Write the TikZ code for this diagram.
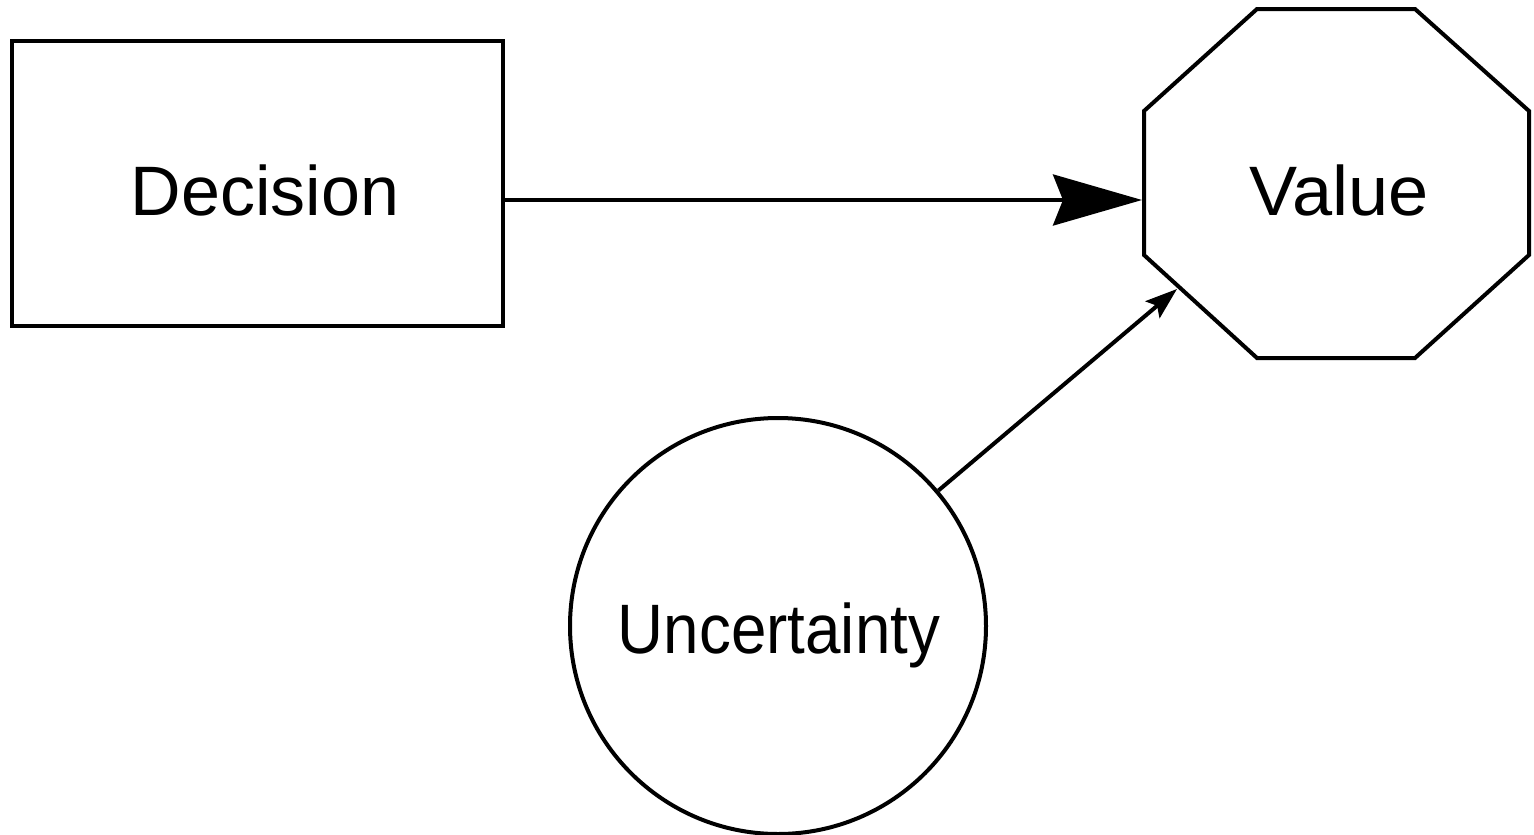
\documentclass[tikz,border=0pt]{standalone}
\usepackage{fontspec}
\usepackage{graphicx}
\setmainfont{Liberation Sans}
\usetikzlibrary{positioning}
\usetikzlibrary{arrows.meta}

\begin{document}
\begin{tikzpicture}[x=1pt,y=-1pt,line width=4pt,
    every node/.style={font=\fontsize{70}{84}\selectfont}]
  \useasboundingbox (0,0) rectangle (1534,835);

  \node[draw,minimum width=491pt,minimum height=285pt] (decision) at (257.5,183.5) {};
  \node (decisiontext) at ([shift={(7.5,6.5)}]decision.center) {Decision};
  \node[draw,circle,minimum size=416pt] (uncertainty) at (778,626) {};
  \node (uncertaintytext) at ([shift={(1,9)}]uncertainty.center) {\scalebox{0.91}[1]{Uncertainty}};

  % octagon
  \draw[line join=miter] (1257,9) -- (1415,9) -- (1529,111) -- (1529,255) -- (1415,358)
    -- (1257,358) -- (1144,255) -- (1144,111) -- cycle;
  \node (value) at (1339,190) {\scalebox{1.03}[1]{Value}};
  \coordinate (vin) at (1142,200);
  \coordinate (vdiag) at (1177,289);

  % arrows
  \draw[-{Stealth[length=89pt,width=51pt,inset=10pt]}] (vin -| decision.east) -- (vin);
  \draw[-{Stealth[length=32pt,width=22pt,inset=6pt]}] (uncertainty) -- (vdiag);
\end{tikzpicture}
\end{document}
